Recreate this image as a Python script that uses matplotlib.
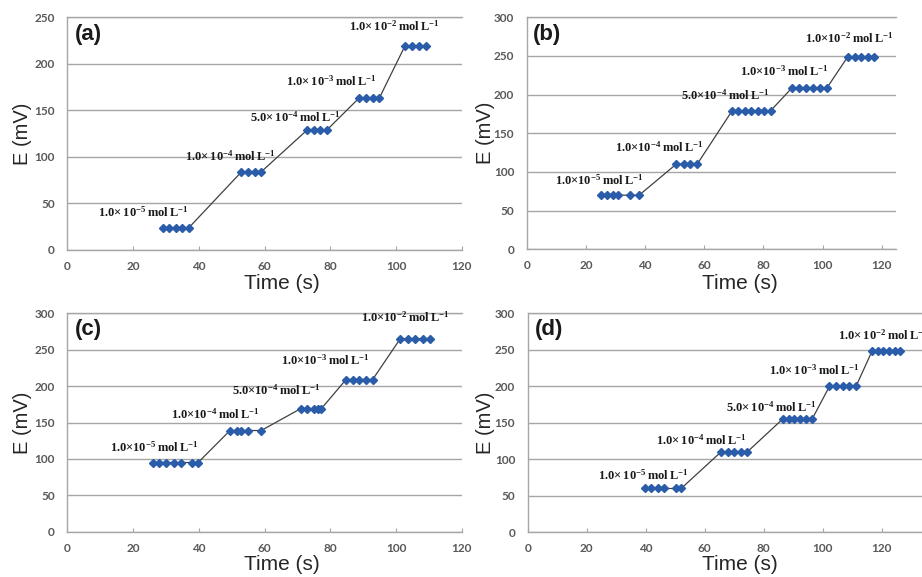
import matplotlib
matplotlib.use('Agg')
import matplotlib.pyplot as plt

plt.rcParams['mathtext.fontset'] = 'custom'
plt.rcParams['mathtext.rm'] = 'Liberation Serif'
plt.rcParams['mathtext.bf'] = 'Liberation Serif:bold'

# ---- data ----
time_a = [29, 31, 33, 35, 37, 53, 55, 57, 59, 73, 75, 77, 79,
          88.7, 90.8, 92.9, 94.9, 102.7, 104.8, 107, 109]
e_a = [24, 24, 24, 24, 24, 84, 84, 84, 84, 129, 129, 129, 129,
       163, 163, 163, 163, 219, 219, 219, 219]

time_b = [25, 27, 29, 31, 35, 38, 50.5, 53, 55.3, 57.6,
          69.4, 71.5, 73.7, 75.8, 78, 80.1, 82.4,
          89.7, 92.1, 94.4, 96.8, 99.2, 101.5,
          108.5, 110.8, 113, 115.3, 117.5]
e_b = [70, 70, 70, 70, 70, 70, 110, 110, 110, 110,
       179, 179, 179, 179, 179, 179, 179,
       209, 209, 209, 209, 209, 209,
       249, 249, 249, 249, 249]

time_c = [26, 28, 30, 32.4, 34.7, 37.8, 39.8, 49.5, 51.5, 53, 55, 59,
          71, 73, 75, 76.3, 77.3, 84.8, 86.8, 88.8, 90.9, 92.9,
          101.3, 103.6, 105.9, 108.1, 110.5]
e_c = [95, 95, 95, 95, 95, 95, 95, 139, 139, 139, 139, 139,
       169, 169, 169, 169, 169, 209, 209, 209, 209, 209,
       265, 265, 265, 265, 265]

time_d = [39.7, 41.8, 44.1, 46.3, 50.3, 52, 65.5, 67.8, 69.9, 72.2, 74.4,
          86.4, 88.5, 90.4, 92.4, 94.4, 96.4, 102.3, 104.5, 106.8, 109, 111.3,
          116.7, 118.6, 120.6, 122.5, 124.4, 126.3]
e_d = [60, 60, 60, 60, 60, 60, 110, 110, 110, 110, 110,
       155, 155, 155, 155, 155, 155, 200, 200, 200, 200, 200,
       248, 248, 248, 248, 248, 248]

mantissa = ['1.0', '1.0', '5.0', '1.0', '1.0']
exponent = [-5, -4, -4, -3, -2]

lx_a = [23, 49.5, 69.3, 80.4, 99.6]
ly_a = [40, 101, 142.5, 181, 240]
lx_b = [24.5, 44.8, 67.2, 87, 109]
ly_b = [89.7, 131.5, 198.7, 229.7, 272.8]
lx_c = [26.6, 44.9, 63.6, 78.5, 102.8]
ly_c = [115.9, 161.7, 193.8, 235, 295]
lx_d = [39.2, 59, 82.7, 97.2, 120.5]
ly_d = [78.5, 125.6, 171.2, 221.5, 270.3]

W, H = 922, 577
fig = plt.figure(figsize=(W / 100, H / 100), dpi=100)

grey = '#a6a6a6'
blue = '#2a5caa'


def conc_label(m, e, spaced):
    sep = r'{\times}\,' if spaced else r'{\times}'
    return r'$\mathbf{%s%s10^{%d}\,mol\,L^{-1}}$' % (m, sep, e)


def panel(rect_px, xmax, ymax, t, e, lx, ly, tag, spaced, ylab_x, xlab_xy):
    left, top, right, bottom = rect_px
    ax = fig.add_axes([left / W, 1 - bottom / H, (right - left) / W, (bottom - top) / H])
    ax.plot(t, e, color='#404040', lw=0.9, marker='D', ms=4.3,
            mfc=blue, mec=blue, zorder=3)
    ax.set_xlim(0, xmax)
    ax.set_ylim(0, ymax)
    ax.set_xticks(range(0, 121, 20))
    ax.set_yticks(range(0, ymax + 1, 50))
    ax.grid(axis='y', color=grey, lw=1)
    ax.set_axisbelow(True)
    for s in ['left', 'bottom', 'top']:
        ax.spines[s].set_color(grey)
        ax.spines[s].set_linewidth(1)
    ax.spines['right'].set_visible(False)
    ax.tick_params(axis='x', direction='in', length=3, color=grey, pad=8)
    ax.tick_params(axis='y', length=0, pad=9)
    for lab in ax.get_xticklabels() + ax.get_yticklabels():
        lab.set_fontfamily('Lato')
        lab.set_fontweight('bold')
        lab.set_fontsize(8.5)
        lab.set_color('#595959')
    ax.set_ylabel('E (mV)', fontsize=14.5, family='Liberation Sans', color='#262626', va='center')
    ax.set_xlabel('Time (s)', fontsize=15, family='Liberation Sans', color='#262626', va='center')
    ax.yaxis.set_label_coords(ylab_x / W, 1 - ((top + bottom) / 2) / H, transform=fig.transFigure)
    ax.xaxis.set_label_coords(xlab_xy[0] / W, 1 - xlab_xy[1] / H, transform=fig.transFigure)
    ax.text(0.018, 0.925, tag, transform=ax.transAxes, fontsize=16,
            fontweight='bold', family='Liberation Sans', color='#1a1a1a',
            ha='left', va='center')
    for m, ex, x, y in zip(mantissa, exponent, lx, ly):
        ax.text(x, y, conc_label(m, ex, spaced), fontsize=9, color='#1a1a1a',
                ha='center', va='center')
    return ax


panel((67.3, 17.3, 461.7, 250), 120, 250, time_a, e_a, lx_a, ly_a, '(a)', True, 23, (282, 283))
panel((526.7, 17.3, 896, 249.3), 124.8, 300, time_b, e_b, lx_b, ly_b, '(b)', False, 485, (740, 283))
panel((67.3, 313.3, 461.7, 531.7), 120, 300, time_c, e_c, lx_c, ly_c, '(c)', False, 23, (282, 564))
panel((527.7, 313.3, 527.7 + 140 * 2.95, 532.3), 140, 300, time_d, e_d, lx_d, ly_d, '(d)', True, 485, (740, 564))

fig.savefig('out.png', dpi=100)
